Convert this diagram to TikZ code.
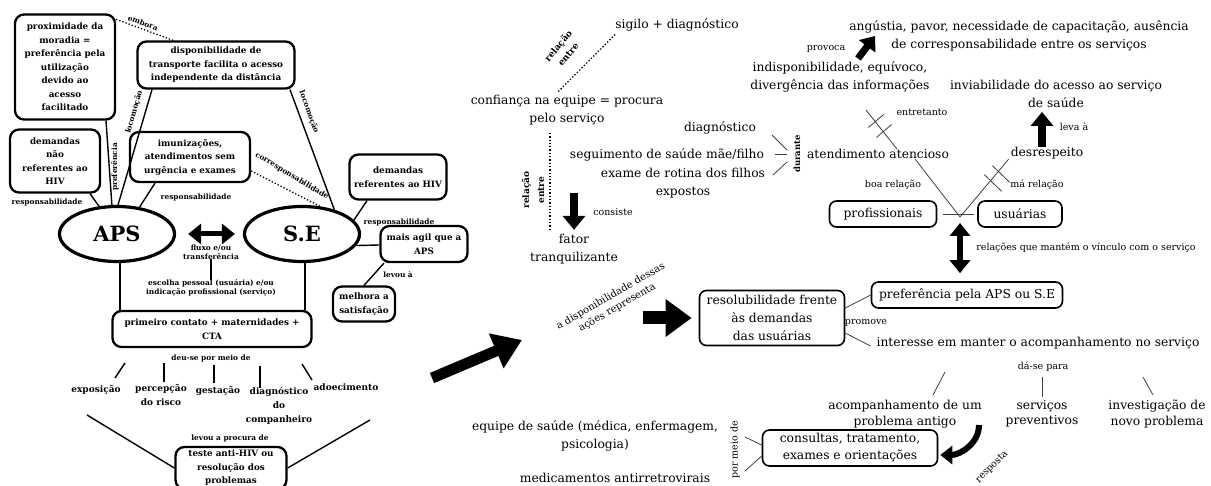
\documentclass[tikz,border=0pt]{standalone}
\usepackage{fontspec}
\setmainfont{DejaVu Serif}
\usetikzlibrary{shapes.geometric,arrows.meta}
\newcommand\myrt{\fontsize{12.3}{18}\selectfont}
\newcommand\myrs{\fontsize{9.5}{11}\selectfont}
\newcommand\myls{\bfseries\fontsize{7.4}{8.8}\selectfont}
\newcommand\mylb{\bfseries\fontsize{8.8}{13.5}\selectfont}
\begin{document}
\begin{tikzpicture}[x=1pt,y=-1pt,
  lbox/.style={draw,line width=2.3pt,rounded corners=9pt,align=center,inner sep=1pt,font=\mylb},
  rbox/.style={draw,line width=1.6pt,rounded corners=7pt,align=center,inner sep=1pt,font=\myrt},
  ell/.style={ellipse,draw,line width=3.2pt,minimum width=115pt,minimum height=55pt,inner sep=0pt,font=\bfseries\fontsize{21}{24}\selectfont},
  slab/.style={font=\myls,align=center,inner sep=0pt},
  lt/.style={font=\bfseries\fontsize{9}{14}\selectfont,align=center,inner sep=0pt},
  rtxt/.style={font=\myrt,align=center,inner sep=0pt},
  rsm/.style={font=\myrs,align=center,inner sep=0pt},
  conn/.style={line width=1.4pt},
  thinl/.style={line width=0.8pt,black!75},
  dots/.style={dotted,line width=1.3pt},
  bigarr/.style={line width=11pt,-{Triangle[width=36pt,length=28pt]}},
  midarr/.style={line width=8pt,-{Triangle[width=22pt,length=14pt]}},
  dblarr/.style={line width=6pt,{Triangle[width=20pt,length=13pt]}-{Triangle[width=20pt,length=13pt]}}
]
\fill[white] (0,0) rectangle (1211,486);
\useasboundingbox (0,0) rectangle (1211,486);

% ---------------- left part ----------------
\node[lbox,minimum width=100pt,minimum height=105pt] (prox) at (65,67) {proximidade da\\moradia =\\preferência pela\\utilização\\devido ao\\acesso\\facilitado};
\node[lbox,minimum width=157pt,minimum height=47pt] (transp) at (216,65) {disponibilidade de\\transporte facilita o acesso\\independente da distância};
\node[lbox,minimum width=90pt,minimum height=63pt] (dnao) at (55,161) {demandas\\não\\referentes ao\\HIV};
\node[lbox,minimum width=120pt,minimum height=50pt] (imun) at (190,157) {imunizações,\\atendimentos sem\\urgência e exames};
\node[lbox,minimum width=97pt,minimum height=45pt] (dref) at (398,177) {demandas\\referentes ao HIV};
\node[ell] (aps) at (117,234) {APS};
\node[ell] (se) at (302,234) {S.E};
\node[lbox,minimum width=87pt,minimum height=36pt] (agil) at (424,244) {mais agil que a\\APS};
\node[lbox,minimum width=62pt,minimum height=35pt] (melh) at (364,304) {melhora a\\satisfação};
\node[lbox,minimum width=199pt,minimum height=36pt] (prim) at (212,329) {primeiro contato + maternidades +\\CTA};
\node[lbox,minimum width=111pt,minimum height=42pt] (teste) at (231,468) {teste anti-HIV ou\\resolução dos\\problemas};

% connectors left
\draw[dots] ([yshift=-6pt]prox.north east) -- ([xshift=-43pt]transp.north);
\node[slab,rotate=-20] (lemb) at (143,23) {embora};
\draw[conn] ([xshift=41pt]prox.south) -- (aps.100);
\node[slab,rotate=90] (lpref) at (115,167) {preferência};
\draw[conn] ([xshift=-64pt]transp.south) -- (aps.88);
\node[slab,rotate=74] (lloc1) at (134,112) {locomoção};
\draw[conn] ([xshift=74pt]transp.south) -- (se.37);
\node[slab,rotate=-70] (lloc2) at (309,112) {locomoção};
\draw[conn] ([xshift=35pt]dnao.south) -- (aps.123);
\node[slab] (lresp1) at (47,202) {responsabilidade};
\draw[conn] ([xshift=-35pt]imun.south) -- (aps.50);
\node[slab] (lresp2) at (196,197) {responsabilidade};
\draw[dots] ([yshift=-14pt]imun.east) -- (se.57);
\node[slab,rotate=-31] (lcor) at (292,176) {corresponsabilidade};
\draw[conn] ([xshift=-31pt]dref.south) -- (se.15);
\node[slab] (lresp3) at (399,222) {responsabilidade};
\draw[conn] (se.-12) -- ([yshift=-1pt]agil.west);
\draw[conn] ([xshift=-40pt]agil.south) -- (melh.north);
\node[slab] (llev) at (398,275) {levou à};
\draw[dblarr,line width=5pt] ([xshift=12pt]aps.east) -- ([xshift=-8pt]se.west);
\node[slab] (flux) at (211,252) {fluxo e/ou\\transferência};
\node[slab] (esc) at (211,288) {escolha pessoal (usuária) e/ou\\indicação profissional (serviço)};
\draw[conn] (flux.south) -- (esc.north);
\draw[conn] ([xshift=3pt]aps.south) -- ([xshift=-92pt]prim.north);
\draw[conn] ([xshift=3pt]se.south) -- ([xshift=93pt]prim.north);
\node[slab] (deu) at (211,358) {deu-se por meio de};
\node[lt] (expo) at (96,390) {exposição};
\node[lt] (perc) at (161,395) {percepção\\do risco};
\node[lt] (gest) at (218,391) {gestação};
\node[lt] (diag) at (279,406) {diagnóstico\\do\\companheiro};
\node[lt] (adoe) at (346,387) {adoecimento};
\draw[conn] (125,363) -- (115,378);
\draw[conn] (164,363) -- (164,382);
\draw[conn] (214,365) -- (214,383);
\draw[conn] (260,366) -- (260,388);
\draw[conn] (302,364) -- (312,380);
\draw[conn] (87,415) -- (teste.west);
\draw[conn] (370,420) -- (teste.east);
\node[slab] (lproc) at (230,438) {levou a procura de};

% big arrow to the right side
\draw[bigarr] (432,378) -- (522,340);

% ---------------- right part ----------------
\node[rtxt] (sig) at (677,25) {sigilo + diagnóstico};
\node[rtxt] (conf) at (567,110) {confiança na equipe = procura\\pelo serviço};
\draw[dots] ([yshift=-3pt]sig.south west) -- ([xshift=-9pt,yshift=3pt]conf.north);
\node[slab,rotate=50,font=\bfseries\fontsize{9}{13}\selectfont] (rel1) at (563,50) {relação\\entre};
\draw[dots] (550,133) -- (550,230);
\node[slab,rotate=90,font=\bfseries\fontsize{9}{15}\selectfont] (rel2) at (533,190) {relação\\entre};
\node[rtxt] (fator) at (574,249) {fator\\tranquilizante};
\draw[midarr] (574,193) -- ([yshift=4pt]fator.north);
\node[rsm] (lcons) at (613,212) {consiste};

\node[rtxt] (diagn) at (720,128) {diagnóstico};
\node[rtxt] (seg) at (667,155) {seguimento de saúde mãe/filho};
\node[rtxt] (exam) at (683,183) {exame de rotina dos filhos\\expostos};
\draw[thinl] (772,135) -- (787,150);
\draw[thinl] (775,154) -- (787,154);
\draw[thinl] (773,175) -- (787,162);
\node[rsm,rotate=90,font=\bfseries\fontsize{8.5}{10}\selectfont] (dur) at (797,154) {durante};

\node[rtxt] (aten) at (878,154) {atendimento atencioso};
\node[rtxt] (desr) at (1047,153) {desrespeito};
\node[rbox,minimum width=107pt,minimum height=26pt] (prof) at (883,214) {profissionais};
\node[rbox,minimum width=84pt,minimum height=26pt] (usu) at (1020,214) {usuárias};
\coordinate (jn) at (960,217);
\draw[thinl] ([xshift=37pt]aten.south) -- (jn);
\draw[thinl] ([xshift=-2pt]desr.south west) -- (jn);
\draw[thinl] ([xshift=6pt]prof.east) -- ([xshift=-3pt]usu.west);
\draw[thinl] (992.4,165.7) -- (1009.6,182.3);
\draw[thinl] (984.4,174.7) -- (1001.6,191.3);
\node[rsm] (lboa) at (893,185) {boa relação};
\node[rsm] (lma) at (1037,185) {má relação};

\node[rtxt] (indisp) at (840,77) {indisponibilidade, equívoco,\\divergência das informações};
\coordinate (etop) at (866,110);
\draw[thinl] ([xshift=19pt]aten.north) -- (etop);
\draw[thinl] (876.4,137.5) -- (891.6,124.5);
\draw[thinl] (868.4,127.5) -- (883.6,114.5);
\node[rsm] (lentre) at (922,112) {entretanto};
\node[rtxt] (angu) at (1019,36) {angústia, pavor, necessidade de capacitação, ausência\\de corresponsabilidade entre os serviços};
\draw[line width=7pt,-{Triangle[width=20pt,length=13pt]}] ([xshift=18pt,yshift=3pt]indisp.north) -- (875,36);
\node[rsm] (lprov) at (826,49) {provoca};
\node[rtxt] (inviab) at (1056,94) {inviabilidade do acesso ao serviço\\de saúde};
\draw[midarr] ([xshift=-5pt]desr.north) -- ([xshift=-14pt,yshift=-4pt]inviab.south);
\node[rsm] (lleva) at (1074,127) {leva à};

\node[rbox,minimum width=191pt,minimum height=26pt] (pref) at (967,295) {preferência pela APS ou S.E};
\draw[dblarr] ([yshift=-6pt]jn) -- ([xshift=-7pt,yshift=8pt]pref.north);
\node[rsm] (lrel) at (1086,248) {relações que mantém o vínculo com o serviço};

\node[rsm,rotate=30,font=\fontsize{10}{13}\selectfont] (ldisp) at (614,302) {a disponibilidade dessas\\ações representa};
\node[rbox,minimum width=145pt,minimum height=55pt] (resol) at (772,318) {resolubilidade frente\\às demandas\\das usuárias};
\draw[line width=13pt,-{Triangle[width=36pt,length=26pt]}] (643,318) -- ([xshift=-7pt]resol.west);
\node[rtxt] (inter) at (1038,343) {interesse em manter o acompanhamento no serviço};
\draw[thinl] ([yshift=10pt]resol.east) -- (pref.west);
\draw[thinl] ([yshift=-15pt]resol.east) -- ([xshift=-6pt,yshift=-3pt]inter.west);
\node[rsm] (lprom) at (866,323) {promove};
\node[rsm] (ldase) at (1043,367) {dá-se para};
\node[rtxt,font=\fontsize{12.3}{15.5}\selectfont] (acomp) at (905,414) {acompanhamento de um\\problema antigo};
\node[rtxt,font=\fontsize{12.3}{15.5}\selectfont] (serv) at (1042,414) {serviços\\preventivos};
\node[rtxt,font=\fontsize{12.3}{15.5}\selectfont] (inves) at (1157,414) {investigação de\\novo problema};
\draw[thinl] (945,372) -- (933,395);
\draw[thinl] (1042,377) -- (1042,397);
\draw[thinl] (1143,377) -- (1153,395);

\node[rbox,minimum width=175pt,minimum height=36pt,font=\fontsize{12.3}{17}\selectfont] (cons) at (850,448) {consultas, tratamento,\\exames e orientações};
\draw[line width=6pt,-{Triangle[width=18pt,length=12pt]}] (979,425) to[out=-90,in=0] ([xshift=2pt,yshift=-7pt]cons.east);
\node[rsm,rotate=45] (lresp) at (992,467) {resposta};
\node[rtxt] (equipe) at (595,436) {equipe de saúde (médica, enfermagem,\\psicologia)};
\node[rtxt] (medic) at (615,478) {medicamentos antirretrovirais};
\node[rsm,rotate=90] (lpor) at (735,450) {por meio de};
\draw[thinl] (745,437) -- ([yshift=3pt]cons.west);
\draw[thinl] (745,471) -- ([yshift=-8pt]cons.west);
\end{tikzpicture}
\end{document}
